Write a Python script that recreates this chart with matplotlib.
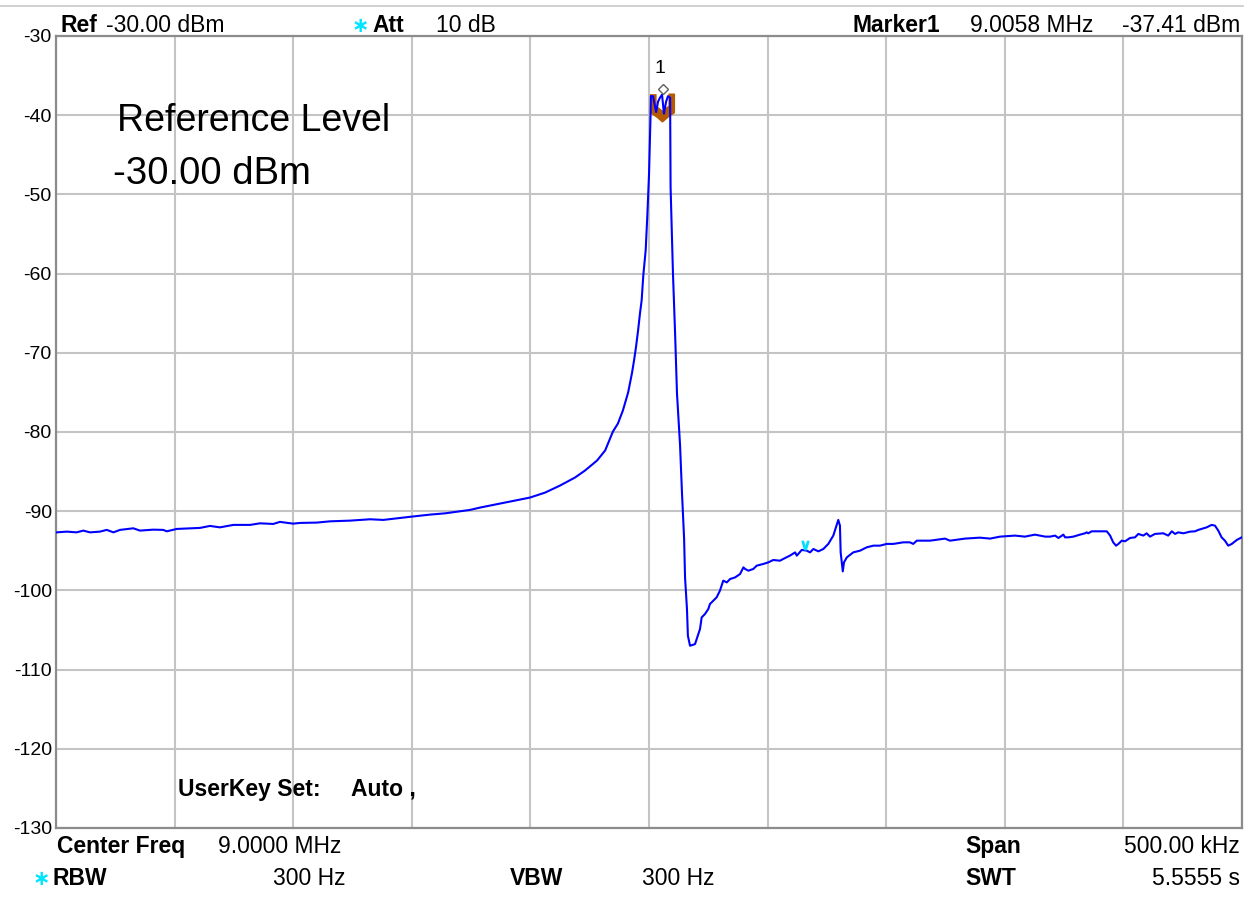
import matplotlib
matplotlib.use("Agg")
import matplotlib.pyplot as plt
from matplotlib.lines import Line2D
from matplotlib.transforms import offset_copy

plt.rcParams['font.family'] = ['Liberation Sans', 'DejaVu Sans']

# sweep settings
center_mhz = 9.0
span_mhz = 0.5
ref_level = -30.0
y_bottom = -130.0

# trace (MHz, dBm)
freq_mhz = [
    8.7503, 8.7545, 8.7587, 8.7615, 8.7643, 8.7685, 8.7714, 8.7742, 8.7770, 8.7826,
    8.7854, 8.7910, 8.7952, 8.7967, 8.8009, 8.8107, 8.8149, 8.8191, 8.8248, 8.8318,
    8.8360, 8.8416, 8.8444, 8.8500, 8.8529, 8.8599, 8.8655, 8.8740, 8.8824, 8.8880,
    8.8950, 8.9001, 8.9077, 8.9140, 8.9203, 8.9245, 8.9288, 8.9372, 8.9456, 8.9498,
    8.9562, 8.9625, 8.9688, 8.9730, 8.9781, 8.9815, 8.9848, 8.9869, 8.9890, 8.9912,
    8.9928, 8.9937, 8.9945, 8.9954, 8.9962, 8.9969, 8.9976, 8.9986, 8.9993, 9.0000,
    9.0006, 9.0008, 9.0017, 9.0030, 9.0038, 9.0046, 9.0055, 9.0063, 9.0072, 9.0080,
    9.0089, 9.0091, 9.0101, 9.0110, 9.0118, 9.0131, 9.0139, 9.0148, 9.0152, 9.0160,
    9.0164, 9.0173, 9.0194, 9.0208, 9.0215, 9.0222, 9.0236, 9.0250, 9.0257, 9.0271,
    9.0285, 9.0299, 9.0313, 9.0328, 9.0342, 9.0363, 9.0384, 9.0398, 9.0405, 9.0419,
    9.0440, 9.0454, 9.0482, 9.0503, 9.0524, 9.0552, 9.0566, 9.0594, 9.0616, 9.0623,
    9.0644, 9.0665, 9.0679, 9.0693, 9.0714, 9.0735, 9.0756, 9.0777, 9.0798, 9.0805,
    9.0808, 9.0817, 9.0822, 9.0834, 9.0861, 9.0890, 9.0918, 9.0946, 9.0974, 9.1002,
    9.1030, 9.1072, 9.1100, 9.1114, 9.1129, 9.1185, 9.1248, 9.1269, 9.1332, 9.1395,
    9.1438, 9.1480, 9.1543, 9.1585, 9.1627, 9.1670, 9.1691, 9.1712, 9.1726, 9.1747,
    9.1754, 9.1768, 9.1789, 9.1817, 9.1838, 9.1845, 9.1852, 9.1866, 9.1930, 9.1944,
    9.1957, 9.1969, 9.1979, 9.1993, 9.2007, 9.2028, 9.2049, 9.2063, 9.2084, 9.2098,
    9.2112, 9.2133, 9.2168, 9.2189, 9.2204, 9.2218, 9.2231, 9.2253, 9.2281, 9.2302,
    9.2316, 9.2351, 9.2372, 9.2386, 9.2400, 9.2414, 9.2428, 9.2442, 9.2457, 9.2478,
    9.2499,
]
level_dbm = [
    -92.67, -92.58, -92.67, -92.45, -92.67, -92.58, -92.36, -92.67, -92.36, -92.16,
    -92.45, -92.33, -92.36, -92.54, -92.24, -92.11, -91.86, -92.04, -91.73, -91.73,
    -91.53, -91.61, -91.35, -91.57, -91.48, -91.44, -91.28, -91.19, -91.02, -91.10,
    -90.85, -90.68, -90.43, -90.27, -90.01, -89.84, -89.54, -89.04, -88.53, -88.28,
    -87.65, -86.76, -85.75, -84.87, -83.60, -82.34, -79.94, -78.93, -77.28, -75.01,
    -72.60, -70.96, -69.32, -67.17, -65.02, -63.38, -60.21, -57.05, -52.63, -47.57,
    -40.62, -37.59, -37.60, -39.60, -38.30, -37.80, -37.41, -39.80, -38.30, -37.60,
    -37.80, -49.09, -59.96, -67.55, -75.13, -81.71, -87.65, -93.46, -98.39, -102.31,
    -105.73, -106.99, -106.78, -105.51, -104.88, -103.41, -102.98, -102.35, -101.72, -101.30,
    -100.88, -100.04, -98.77, -98.99, -98.56, -98.36, -97.93, -97.09, -97.29, -97.51,
    -97.29, -96.88, -96.66, -96.46, -96.16, -96.25, -96.03, -95.61, -95.20, -95.61,
    -94.89, -94.98, -95.20, -94.77, -95.07, -94.77, -94.13, -93.08, -91.10, -91.82,
    -95.20, -97.60, -96.46, -95.83, -95.20, -94.98, -94.56, -94.35, -94.35, -94.13,
    -94.13, -93.93, -93.93, -94.13, -93.72, -93.72, -93.46, -93.72, -93.46, -93.34,
    -93.46, -93.21, -93.08, -93.21, -92.96, -93.21, -93.21, -93.08, -93.38, -92.96,
    -93.30, -93.30, -93.21, -92.96, -92.79, -92.67, -92.79, -92.54, -92.54, -93.08,
    -93.93, -94.35, -94.13, -93.72, -93.80, -93.38, -93.30, -92.87, -93.08, -92.79,
    -93.21, -92.87, -92.79, -93.08, -92.54, -92.87, -92.67, -92.79, -92.58, -92.54,
    -92.36, -92.04, -91.73, -91.82, -92.45, -93.30, -93.72, -94.35, -94.13, -93.63,
    -93.30,
]

marker1_freq = 9.0058
marker1_level = -37.41
cyan_mark_freq = 9.0658
cyan_mark_level = -94.3

fig = plt.figure(figsize=(12.5, 8.99), dpi=100)
ax = fig.add_axes([56 / 1250, 1 - 828 / 899, 1186 / 1250, 792 / 899])

ax.set_xlim(center_mhz - span_mhz / 2, center_mhz + span_mhz / 2)
ax.set_ylim(y_bottom, ref_level)
ax.set_xticks([center_mhz - span_mhz / 2 + i * span_mhz / 10 for i in range(11)])
ax.set_xticklabels([])
yt = list(range(-130, -29, 10))
ax.set_yticks(yt)
ax.set_yticklabels([str(v) for v in yt], fontsize=14)
ax.tick_params(length=0, pad=3)
ax.grid(True, color='#c4c4c4', lw=1.5)
ax.set_axisbelow(True)
for s in ax.spines.values():
    s.set_color('#8c8c8c')
    s.set_linewidth(1.6)

# brown marker symbol sits under the trace
shield = [(-0.9, 0.1), (-0.9, -1.3), (-0.4, -1.65), (0, -2), (0.4, -1.65), (0.9, -1.3),
          (0.9, 0.1), (0.5, 0.1), (0.5, -0.8), (0, -1.2), (-0.5, -0.8), (-0.5, 0.1)]
ax.plot([marker1_freq - 0.0004], [marker1_level], marker=shield, ms=38, color='#b55a00',
        mec='#b55a00', ls='none', zorder=2)

ax.plot(freq_mhz, level_dbm, color='#0000ff', lw=1.5, zorder=3)

up4 = offset_copy(ax.transData, fig=fig, x=0, y=4, units='points')
ax.plot([marker1_freq], [marker1_level], marker='D', ms=5, mfc='white', mec='#606060',
        mew=1, ls='none', transform=up4, zorder=4)
ax.annotate("1", xy=(marker1_freq, marker1_level), xytext=(-2, 19),
            textcoords='offset points', ha='center', va='center', fontsize=14)
ax.plot([cyan_mark_freq], [cyan_mark_level], marker=r'$\vee$', ms=6, color='#00e0ff',
        ls='none', zorder=4)

ax.text(0.0514, 0.880, "Reference Level", transform=ax.transAxes, fontsize=27, va='baseline')
ax.text(0.048, 0.813, "-30.00 dBm", transform=ax.transAxes, fontsize=27.5, va='baseline')
ax.text(0.1029, 0.0405, "UserKey Set:", transform=ax.transAxes, fontsize=16.5,
        fontweight='bold', va='baseline')
ax.text(0.2487, 0.0405, "Auto ,", transform=ax.transAxes, fontsize=16.5,
        fontweight='bold', va='baseline')

# thin rule at the top of the screen
fig.add_artist(Line2D([0, 1243 / 1250], [1 - 6 / 899] * 2, color='#c8c8c8', lw=1.2))


def ft(x, y, s, bold=False, ha='left', color='black', **kw):
    fig.text(x / 1250, 1 - y / 899, s, fontsize=kw.pop('fontsize', 16.5),
             fontweight='bold' if bold else 'normal', ha=ha, va='baseline',
             color=color, **kw)


cyan = '#00e5ff'
# header line
ft(60, 32, "Ref", bold=True)
ft(106, 32, "-30.00 dBm")
ft(352, 32, "\u2217", bold=True, color=cyan, family=['DejaVu Sans'], fontsize=15)
ft(372, 32, "Att", bold=True)
ft(436, 32, "10 dB")
ft(853, 32, "Marker1", bold=True)
ft(970, 32, "9.0058 MHz")
ft(1240, 32, "-37.41 dBm", ha='right')

# footer lines
ft(57, 853, "Center Freq", bold=True)
ft(218, 853, "9.0000 MHz")
ft(965, 853, "Span", bold=True)
ft(1240, 853, "500.00 kHz", ha='right')
ft(33, 885, "\u2217", bold=True, color=cyan, family=['DejaVu Sans'], fontsize=15)
ft(52, 885, "RBW", bold=True)
ft(345, 885, "300 Hz", ha='right')
ft(510, 885, "VBW", bold=True)
ft(642, 885, "300 Hz")
ft(965, 885, "SWT", bold=True)
ft(1240, 885, "5.5555 s", ha='right')

fig.savefig("out.png", dpi=100)
